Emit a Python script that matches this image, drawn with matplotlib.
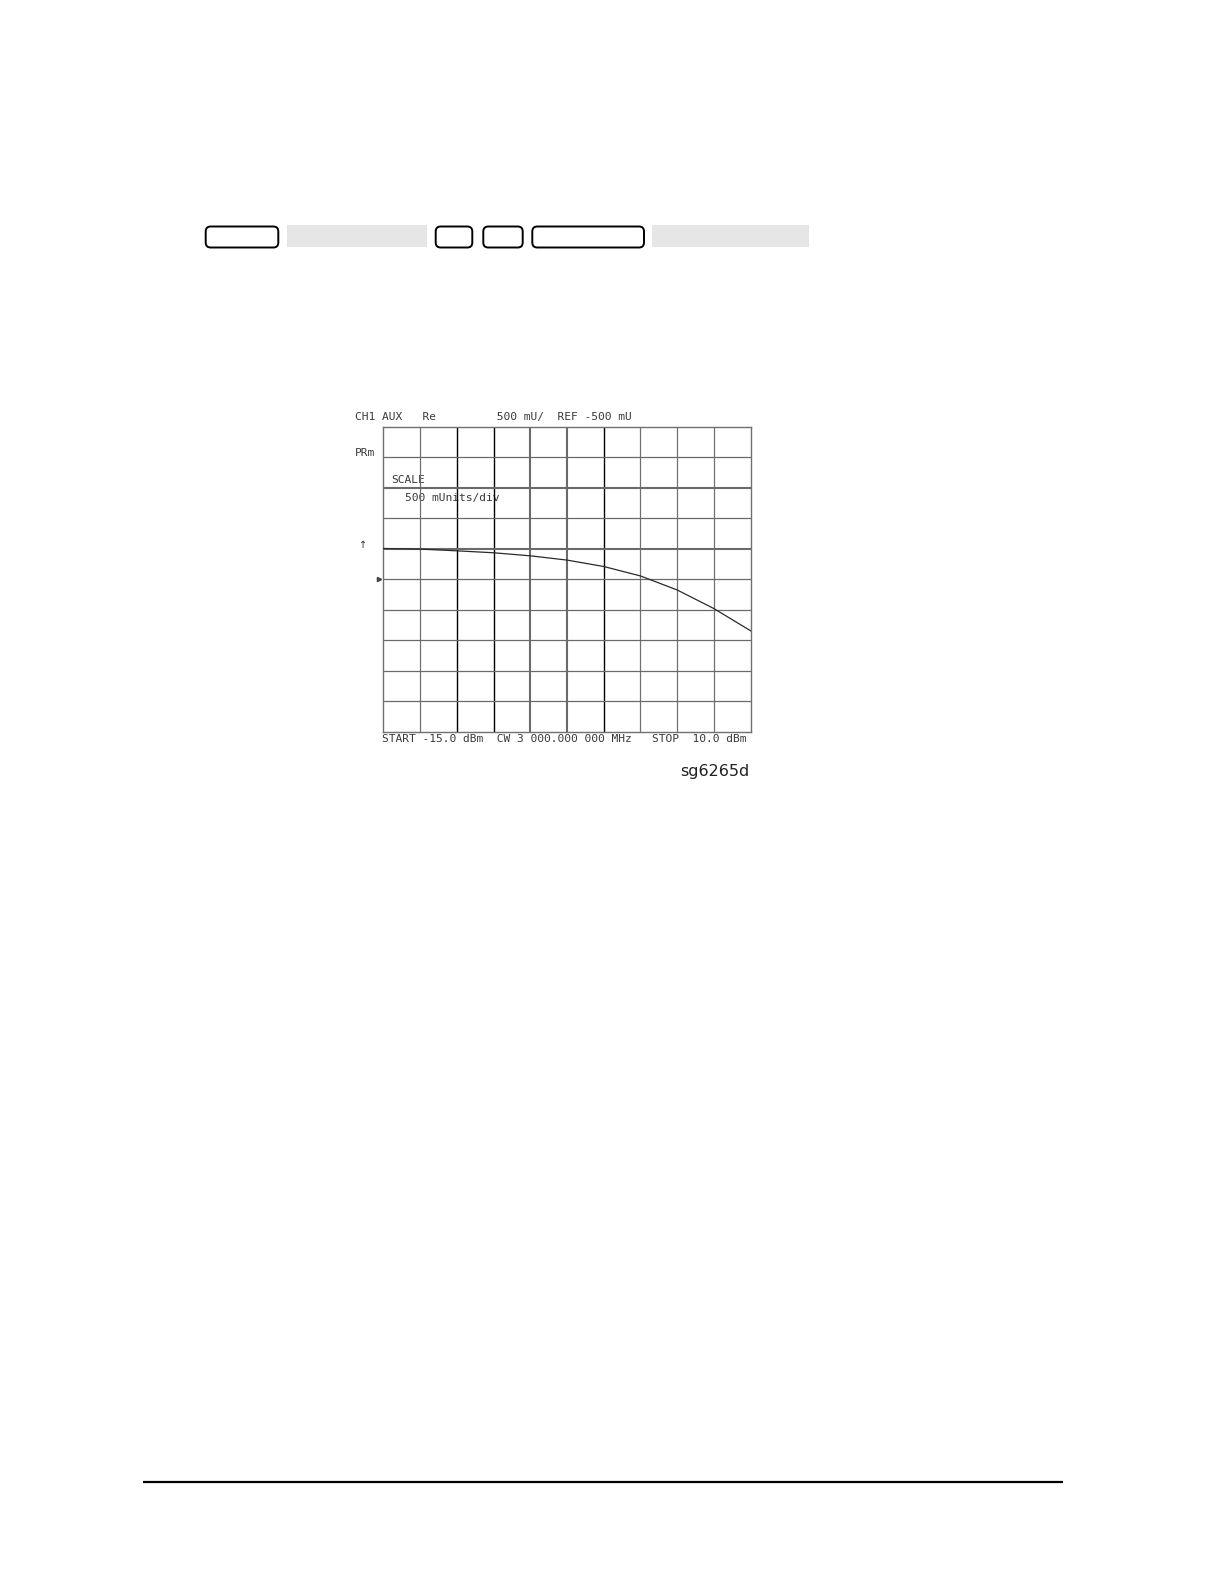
import matplotlib
matplotlib.use("Agg")
import matplotlib.pyplot as plt
from matplotlib.patches import FancyBboxPatch, Rectangle
import matplotlib.transforms as mtransforms

# trace: power sweep vs. AUX ratio (mU)
power_dbm = [-15.0, -12.5, -10.0, -7.5, -5.0, -2.5, 0.0, 2.5, 5.0, 7.5, 10.0]
ratio_mu = [0, -10, -38, -70, -120, -190, -295, -450, -680, -985, -1350]

# screen scale: 500 mU/div, ref -500 mU at the 5th division from top
x_start, x_stop = -15.0, 10.0
y_bottom, y_top = -3000, 2000
ref_level = -500

header_text = "CH1 AUX   Re         500 mU/  REF -500 mU"
footer_text = "START -15.0 dBm  CW 3 000.000 000 MHz   STOP  10.0 dBm"
side_label = "PRm"
scale_lines = ["SCALE", "500 mUnits/div"]
figure_id = "sg6265d"

# key sequence row: outlined keys and grey softkey fields (x0, x1 in px)
hard_keys = [(205.7, 278.3), (435.7, 472.3), (483.3, 522.7), (532.3, 644.0)]
soft_keys = [(287.3, 427.3), (652.3, 809.3)]

W, H = 1224, 1582
fig = plt.figure(figsize=(W / 100, H / 100), dpi=100)

# page layer in pixel units
page = fig.add_axes([0, 0, 1, 1])
page.set_xlim(0, W)
page.set_ylim(H, 0)
page.axis("off")

for x0, x1 in hard_keys:
    page.add_patch(FancyBboxPatch((x0, 226.5), x1 - x0, 21,
                                  boxstyle="round,pad=0,rounding_size=5",
                                  fc="white", ec="black", lw=1.4))
for x0, x1 in soft_keys:
    page.add_patch(Rectangle((x0, 225), x1 - x0, 21.7, fc="#e6e6e6", ec="none"))

page.plot([143.3, 1063.3], [1482.3, 1482.3], color="black", lw=1.6,
          solid_capstyle="butt")

# analyzer screen (transparent so the screen annotations show under the grid)
left, right, top, bottom = 383.3, 750.7, 426.5, 731.5
ax = fig.add_axes([left / W, 1 - bottom / H, (right - left) / W, (bottom - top) / H])
ax.patch.set_alpha(0)
ax.set_xlim(x_start, x_stop)
ax.set_ylim(y_bottom, y_top)
ax.set_xticks([])
ax.set_yticks([])
for s in ax.spines.values():
    s.set_color("#707070")
    s.set_linewidth(1.0)

xdiv = (x_stop - x_start) / 10
ydiv = (y_top - y_bottom) / 10
v_style = {1: ("#707070", 0.9), 2: ("black", 1.0), 3: ("black", 1.0),
           4: ("#6a6a6a", 1.5), 5: ("#6a6a6a", 1.5), 6: ("black", 1.0)}
for i in range(1, 10):
    c, lw = v_style.get(i, ("#707070", 0.9))
    ax.axvline(x_start + i * xdiv, color=c, lw=lw, zorder=1)
h_thick = {2, 4}
for i in range(1, 10):
    thick = i in h_thick
    ax.axhline(y_top - i * ydiv, color="#6a6a6a", lw=1.5 if thick else 0.9, zorder=1)

ax.plot(power_dbm, ratio_mu, color="#2a2a2a", lw=0.9, zorder=3)

# reference position marker and arrow
blend = mtransforms.blended_transform_factory(ax.transAxes, ax.transData)
ax.plot([-0.012], [ref_level], marker=">", ms=3, color="#444444",
        transform=blend, clip_on=False)
ax.text(-0.055, 60, "\u2191", transform=blend, fontsize=7, color="#333333",
        ha="center", va="center", clip_on=False)

mono = dict(family="DejaVu Sans Mono", fontsize=8.1, color="#3a3a3a", va="center")
page.text(355, 416.7, header_text, ha="left", **mono)
page.text(355, 453, side_label, ha="left", **mono)
page.text(391.7, 480, scale_lines[0], ha="left", **mono)
page.text(405, 497.7, scale_lines[1], ha="left", **mono)
page.text(381.7, 739.3, footer_text, ha="left", **mono)

page.text(749.3, 771.5, figure_id, ha="right", va="center",
          family="DejaVu Sans", fontsize=11.5, color="#222222")

fig.savefig("out.png", dpi=100)
